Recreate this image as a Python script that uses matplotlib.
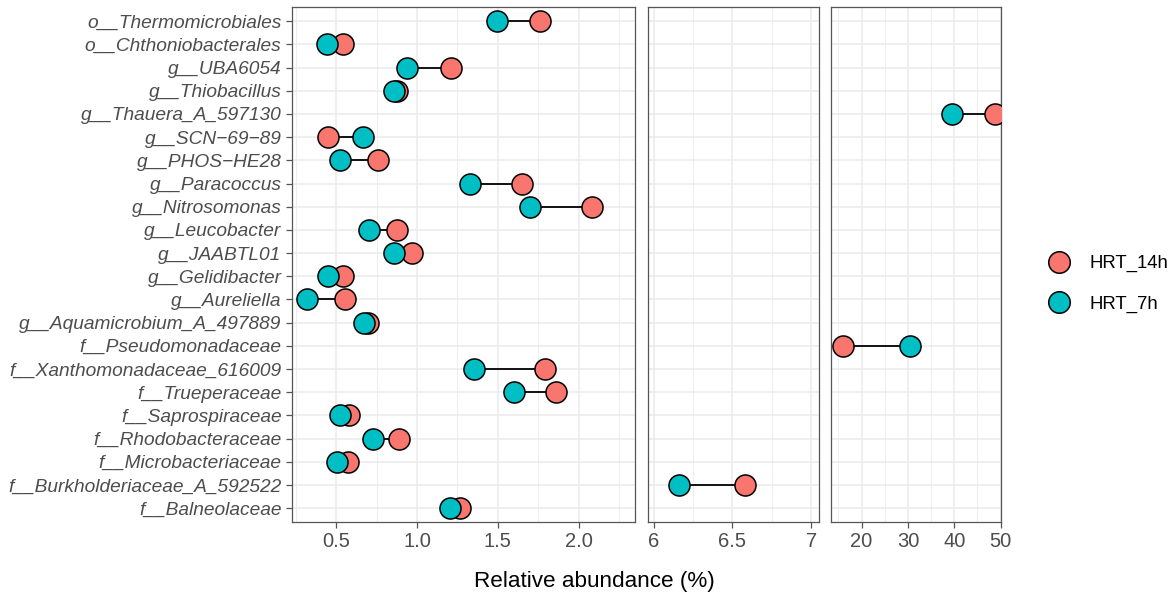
import numpy as np
import matplotlib
matplotlib.use('Agg')
import matplotlib.pyplot as plt
from matplotlib.lines import Line2D

plt.rcParams['font.family'] = ['Liberation Sans', 'DejaVu Sans']

taxa = [
    'o__Thermomicrobiales', 'o__Chthoniobacterales', 'g__UBA6054', 'g__Thiobacillus',
    'g__Thauera_A_597130', 'g__SCN\u221269\u221289', 'g__PHOS\u2212HE28', 'g__Paracoccus',
    'g__Nitrosomonas', 'g__Leucobacter', 'g__JAABTL01', 'g__Gelidibacter', 'g__Aureliella',
    'g__Aquamicrobium_A_497889', 'f__Pseudomonadaceae', 'f__Xanthomonadaceae_616009',
    'f__Trueperaceae', 'f__Saprospiraceae', 'f__Rhodobacteraceae', 'f__Microbacteriaceae',
    'f__Burkholderiaceae_A_592522', 'f__Balneolaceae',
]
hrt_14h = [1.76, 0.54, 1.21, 0.875, 48.7, 0.45, 0.76, 1.65, 2.085, 0.875, 0.97, 0.54, 0.556,
           0.696, 16.0, 1.795, 1.862, 0.578, 0.888, 0.572, 6.58, 1.263]
hrt_7h = [1.494, 0.44, 0.94, 0.86, 39.6, 0.665, 0.52, 1.33, 1.70, 0.70, 0.857, 0.446, 0.318,
          0.671, 30.4, 1.35, 1.598, 0.52, 0.727, 0.504, 6.16, 1.206]

RED = '#F8766D'
TEAL = '#00BFC4'

panels = [
    dict(rect=[292, 635], xlim=(0.225, 2.35), major=[0.5, 1.0, 1.5, 2.0],
         minor=[0.25, 0.75, 1.25, 1.75, 2.25], fmt='{:.1f}'),
    dict(rect=[648, 819], xlim=(5.964, 7.05), major=[6, 6.5, 7],
         minor=[6.25, 6.75], fmt='{:g}'),
    dict(rect=[831, 1001], xlim=(13.4, 50.1), major=[20, 30, 40, 50],
         minor=[15, 25, 35, 45], fmt='{:g}'),
]

W, H = 1172, 599
fig = plt.figure(figsize=(W / 100, H / 100), dpi=100)
top, bottom = 7.3, 522

y = np.arange(len(taxa))
for k, p in enumerate(panels):
    x0, x1 = p['rect']
    ax = fig.add_axes([x0 / W, 1 - bottom / H, (x1 - x0) / W, (bottom - top) / H])
    lo, hi = p['xlim']
    for i in y:
        a, b = hrt_14h[i], hrt_7h[i]
        if lo <= min(a, b) and max(a, b) <= hi + 5:
            ax.plot([a, b], [i, i], color='black', lw=1.3, zorder=2)
            ax.scatter([a], [i], s=230, color=RED, edgecolor='black', lw=1.1, zorder=3)
            ax.scatter([b], [i], s=230, color=TEAL, edgecolor='black', lw=1.1, zorder=4)
    ax.set_xlim(lo, hi)
    ax.set_ylim(len(taxa) - 0.4, -0.6)
    ax.set_xticks(p['major'])
    ax.set_xticklabels([p['fmt'].format(v) for v in p['major']])
    ax.set_xticks(p['minor'], minor=True)
    ax.set_yticks(y)
    ax.grid(which='major', color='#EBEBEB', lw=1.1, zorder=0)
    ax.grid(which='minor', axis='x', color='#EBEBEB', lw=0.6, zorder=0)
    ax.set_axisbelow(True)
    for s in ax.spines.values():
        s.set_color('#555555')
        s.set_linewidth(0.9)
    ax.tick_params(which='major', length=4, color='#555555', width=0.9,
                   labelsize=14.5, labelcolor='#4D4D4D')
    ax.tick_params(which='minor', length=0)
    if k == 0:
        ax.set_yticklabels(taxa, fontstyle='italic', fontsize=13.75, color='#4D4D4D')
    else:
        ax.tick_params(axis='y', left=False, labelleft=False)

fig.text(594 / W, 1 - 582 / H, 'Relative abundance (%)', ha='center', va='center',
         fontsize=16.2, color='black')

handles = [
    Line2D([], [], ls='none', marker='o', markersize=15.5, markerfacecolor=RED,
           markeredgecolor='black', markeredgewidth=1.1, label='HRT_14h'),
    Line2D([], [], ls='none', marker='o', markersize=15.5, markerfacecolor=TEAL,
           markeredgecolor='black', markeredgewidth=1.1, label='HRT_7h'),
]
fig.legend(handles=handles, loc='center left', bbox_to_anchor=(1024 / W, 1 - 284 / H),
           frameon=False, fontsize=13.4, labelspacing=1.25, handletextpad=0.6)

fig.savefig('out.png', dpi=100)
